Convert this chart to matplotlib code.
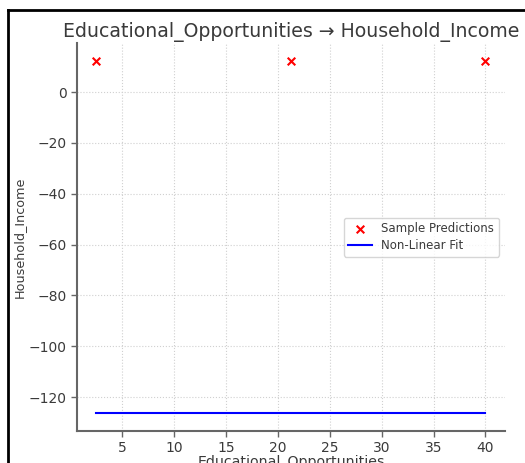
import matplotlib
matplotlib.use("Agg")
import matplotlib.pyplot as plt
from matplotlib.lines import Line2D

# Sample predictions (red crosses)
sample_x = [2.5, 21.3, 40.0]
sample_y = [12.2, 12.2, 12.2]

# Non-linear fit (flat line)
fit_x = [2.5, 40.0]
fit_y = [-126.4, -126.4]

x_ticks = [5, 10, 15, 20, 25, 30, 35, 40]
y_ticks = [0, -20, -40, -60, -80, -100, -120]

text_color = "#3a3a3a"
spine_color = "#666666"

fig = plt.figure(figsize=(5.25, 4.63), dpi=100)
ax = fig.add_axes([0.1467, 0.0691, 0.815, 0.837])

ax.scatter(sample_x, sample_y, marker="x", color="red", s=30, linewidths=1.5,
           label="Sample Predictions", zorder=3)
ax.plot(fit_x, fit_y, color="blue", linewidth=1.5, label="Non-Linear Fit")

ax.set_xticks(x_ticks)
ax.set_yticks(y_ticks)
ax.grid(True, linestyle=":", color="#d0d0d0", linewidth=0.8)

for side in ["top", "right"]:
    ax.spines[side].set_visible(False)
for side in ["left", "bottom"]:
    ax.spines[side].set_color(spine_color)
    ax.spines[side].set_linewidth(1.5)

ax.tick_params(colors=text_color, labelsize=10, length=4, width=1, color=spine_color)
ax.set_title("Educational_Opportunities \u2192 Household_Income", fontsize=13.6,
             color=text_color, pad=5)
ax.set_xlabel("Educational_Opportunities", fontsize=10.2, color=text_color, labelpad=-0.5)
ax.set_ylabel("Household_Income", fontsize=9.2, color=text_color, labelpad=2)

leg = ax.legend(loc="center right", bbox_to_anchor=(1.0, 0.50), fontsize=8.5,
                frameon=True, handlelength=2, labelspacing=0.3)
for t in leg.get_texts():
    t.set_color(text_color)

# screenshot border on the left and top
fig.add_artist(Line2D([8 / 525, 8 / 525], [0, 1 - 10 / 463], color="black", linewidth=2,
                      transform=fig.transFigure))
fig.add_artist(Line2D([8 / 525, 1], [1 - 10 / 463, 1 - 10 / 463], color="black", linewidth=2,
                      transform=fig.transFigure))

fig.savefig("out.png", dpi=100)
